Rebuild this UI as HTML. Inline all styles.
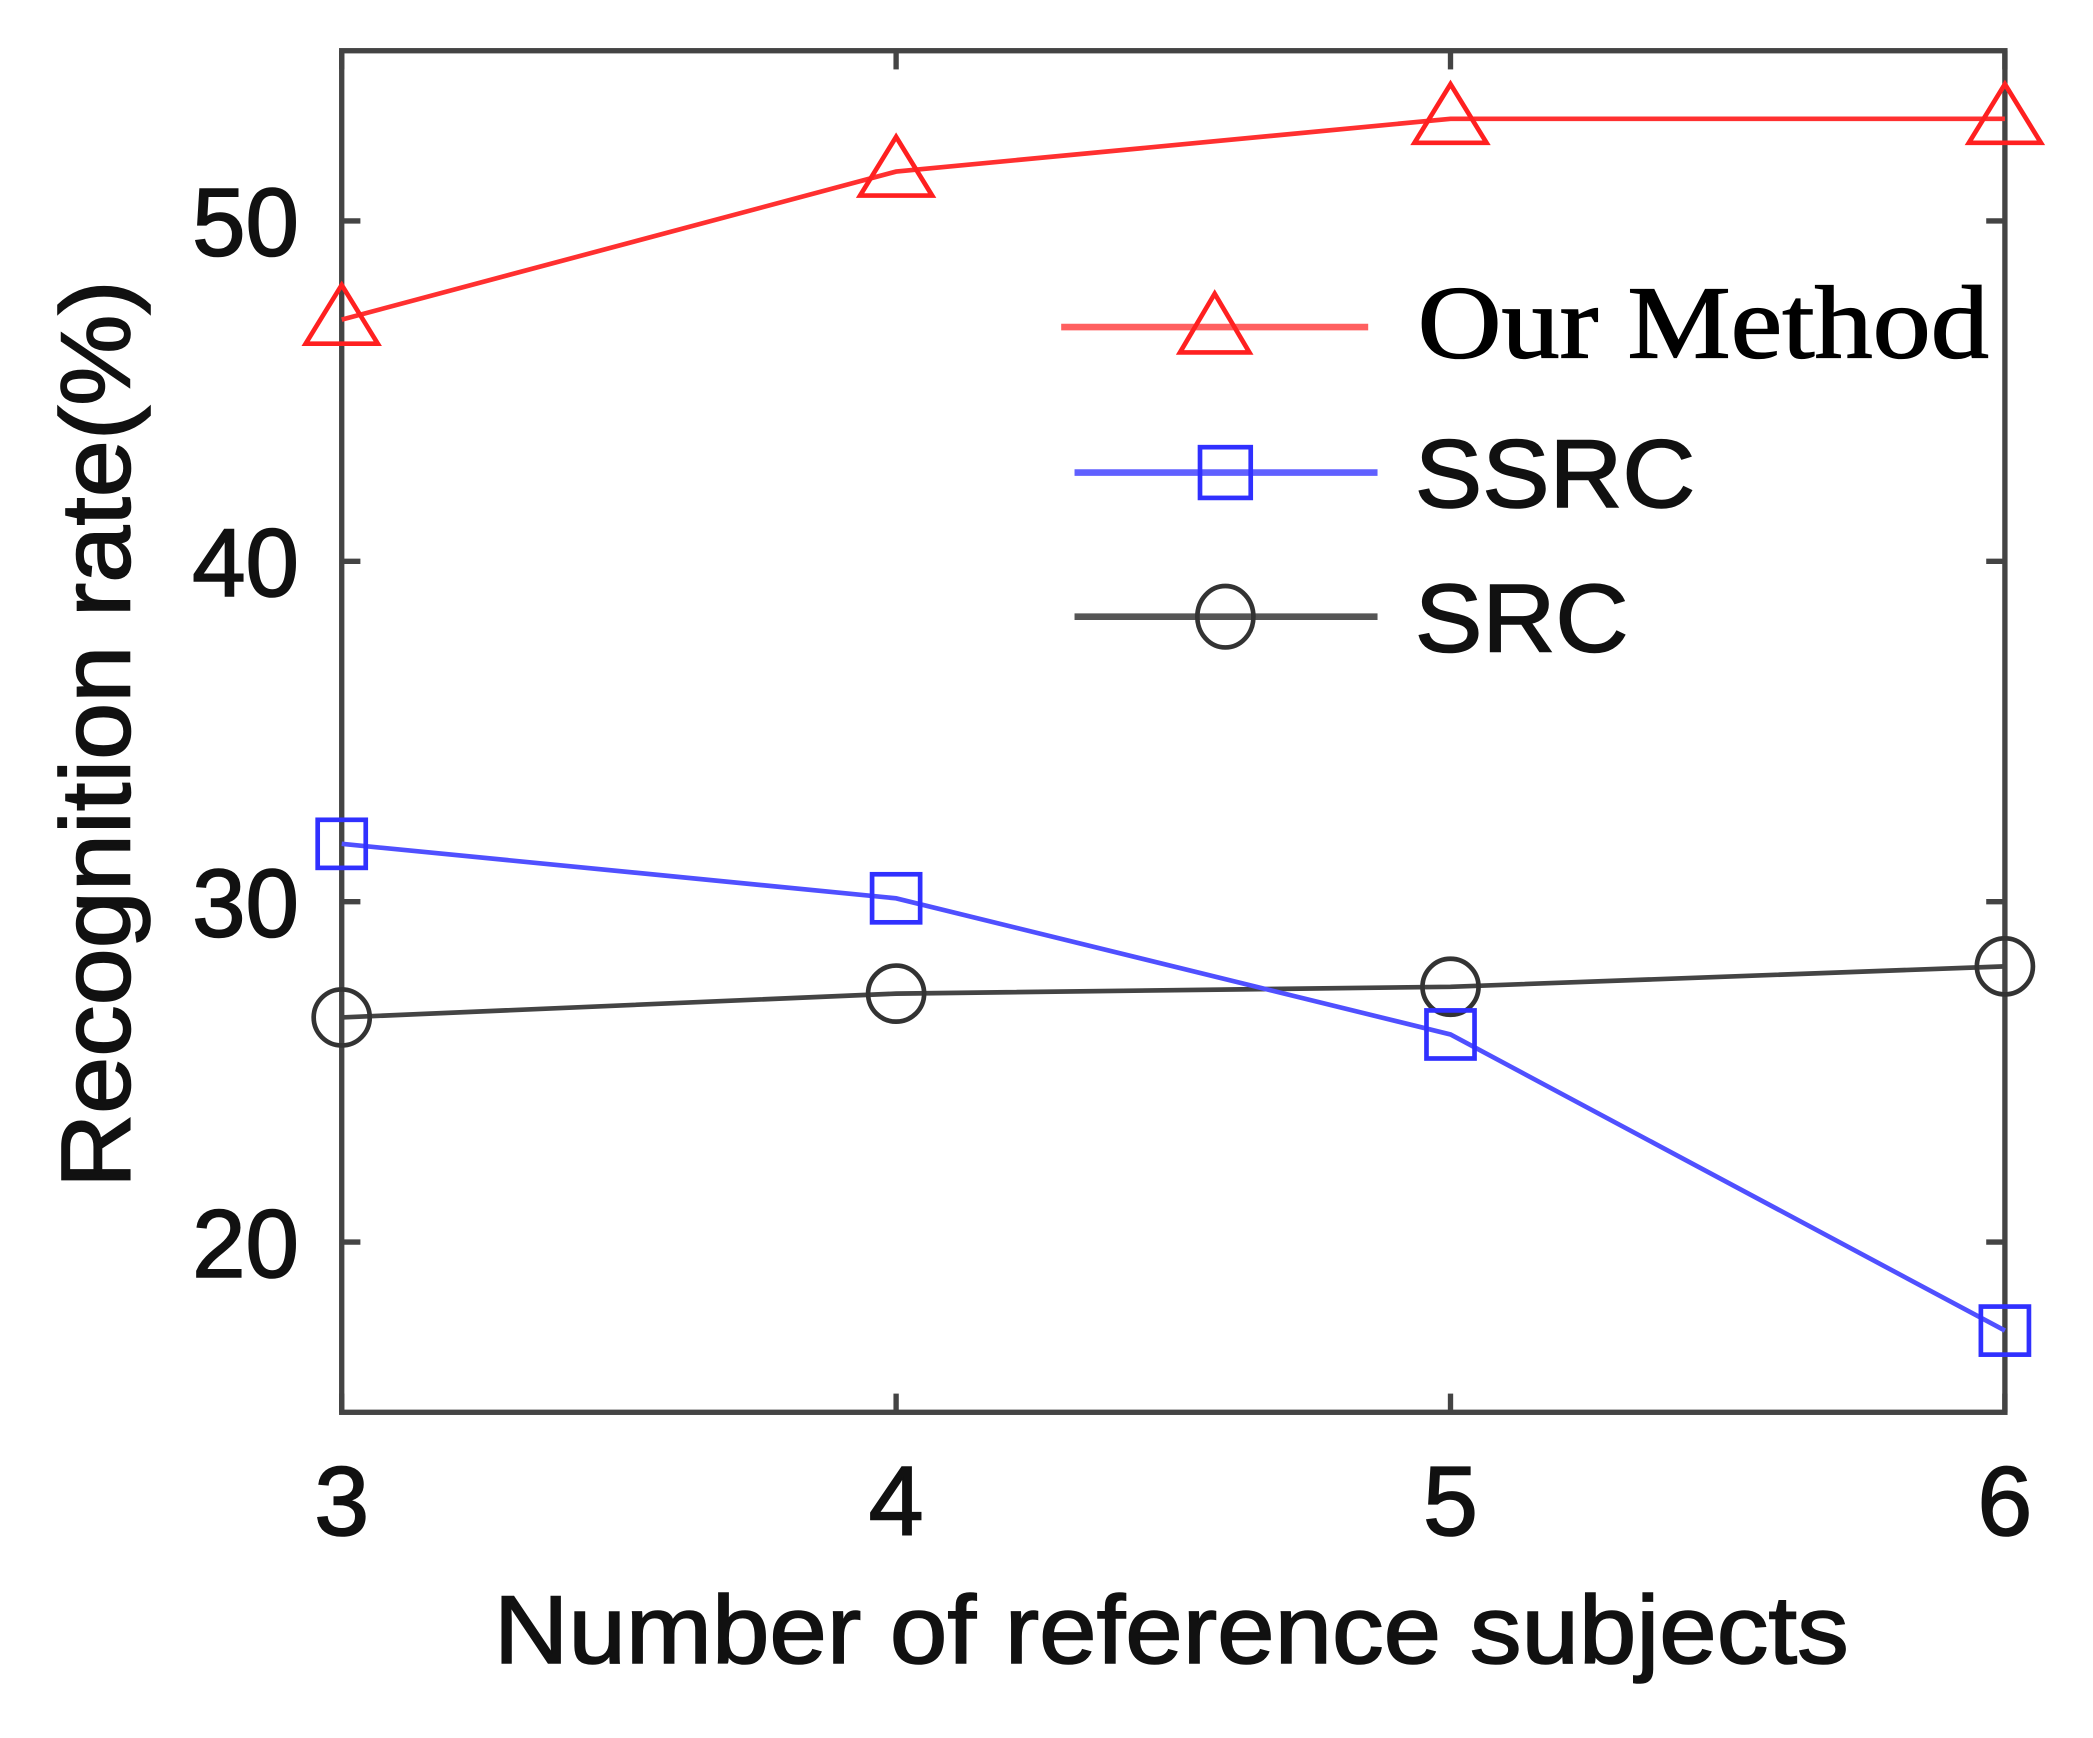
<!DOCTYPE html>
<html><head><meta charset="utf-8"><style>
html,body{margin:0;padding:0;background:#fff;}
svg{display:block;}
</style></head><body>
<svg id="chart" width="2093" height="1738" viewBox="0 0 1568 1302" preserveAspectRatio="none" xmlns="http://www.w3.org/2000/svg">
<rect width="1568" height="1302" fill="#fff"/>
<g id="plot"></g>
<g id="legend">
  <g>
    <line x1="795" y1="245" x2="1025" y2="245" stroke="#ff6060" stroke-width="5"/>
    <polygon points="910,220 936,264 884,264" fill="none" stroke="#ff2020" stroke-width="3.5"/>
    <text x="1062" y="268" textLength="428" lengthAdjust="spacingAndGlyphs" font-family="Liberation Serif, serif" font-size="78" fill="#000" stroke="#000" stroke-width="1">Our Method</text>
  </g>
  <g>
    <line x1="805" y1="354" x2="1032" y2="354" stroke="#6060ff" stroke-width="5"/>
    <rect x="899" y="335" width="38" height="38" fill="none" stroke="#3030ff" stroke-width="3.5"/>
    <text x="1060" y="380" textLength="210" lengthAdjust="spacingAndGlyphs" font-family="Liberation Sans, sans-serif" font-size="72" fill="#111" stroke="#111" stroke-width="1.2">SSRC</text>
  </g>
  <g>
    <line x1="805" y1="462" x2="1032" y2="462" stroke="#555" stroke-width="5"/>
    <ellipse cx="918" cy="462" rx="21" ry="23" fill="none" stroke="#333" stroke-width="3.5"/>
    <text x="1060" y="488" textLength="160" lengthAdjust="spacingAndGlyphs" font-family="Liberation Sans, sans-serif" font-size="72" fill="#111" stroke="#111" stroke-width="1.2">SRC</text>
  </g>
</g>
</svg>
<script>
const categories = [3, 4, 5, 6];
const ourMethod = [47.1, 51.45, 53.0, 53.0];
const ssrc = [31.7, 30.1, 26.1, 17.4];
const src = [26.6, 27.3, 27.5, 28.1];
const yTicks = [20, 30, 40, 50];

const L = 256, R = 1502, T = 38, B = 1058;
const yMin = 15, yMax = 55;
const xs = v => L + (v - 3) / 3 * (R - L);
const ys = v => B - (v - yMin) / (yMax - yMin) * (B - T);
const NS = 'http://www.w3.org/2000/svg';
const g = document.getElementById('plot');
function mk(tag, attrs, parent) {
  const e = document.createElementNS(NS, tag);
  for (const k in attrs) e.setAttribute(k, attrs[k]);
  (parent || g).appendChild(e);
  return e;
}
const frame = mk('rect', {x: L, y: T, width: R - L, height: B - T, fill: 'none', stroke: '#444', 'stroke-width': 4});


yTicks.forEach(t => {
  const y = ys(t);
  mk('line', {x1: L, y1: y, x2: L + 14, y2: y, stroke: '#444', 'stroke-width': 4});
  mk('line', {x1: R, y1: y, x2: R - 14, y2: y, stroke: '#444', 'stroke-width': 4});
  const tx = mk('text', {x: L - 32, y: y + 26, 'text-anchor': 'end', 'font-family': 'Liberation Sans, sans-serif', 'font-size': 72, fill: '#111', stroke: '#111', 'stroke-width': 1.2});
  tx.textContent = t;
  
  
});
categories.forEach(c => {
  const x = xs(c);
  mk('line', {x1: x, y1: B, x2: x, y2: B - 14, stroke: '#444', 'stroke-width': 4});
  mk('line', {x1: x, y1: T, x2: x, y2: T + 14, stroke: '#444', 'stroke-width': 4});
  const tx = mk('text', {x: x, y: 1150, 'text-anchor': 'middle', 'font-family': 'Liberation Sans, sans-serif', 'font-size': 74, fill: '#111', stroke: '#111', 'stroke-width': 1.2});
  tx.textContent = c;
  
  
});
const xt = mk('text', {x: 370, y: 1246, textLength: 1015, lengthAdjust: 'spacingAndGlyphs', 'font-family': 'Liberation Sans, sans-serif', 'font-size': 72, fill: '#111', stroke: '#111', 'stroke-width': 1.2});
xt.textContent = 'Number of reference subjects';


const yt = mk('text', {x: 0, y: 0, transform: 'translate(97,890) rotate(-90)', textLength: 680, lengthAdjust: 'spacingAndGlyphs', 'font-family': 'Liberation Sans, sans-serif', 'font-size': 74, fill: '#111', stroke: '#111', 'stroke-width': 1.2});
yt.textContent = 'Recognition rate(%)';



function series(vals, color, lineColor, name, marker) {
  const sg = mk('g', {});
  
  
  mk('polyline', {points: vals.map((v, i) => xs(categories[i]) + ',' + ys(v)).join(' '), fill: 'none', stroke: lineColor, 'stroke-width': 3.5}, sg);
  vals.forEach((v, i) => {
    const x = xs(categories[i]), y = ys(v);
    let m;
    if (marker === 'tri') m = mk('polygon', {points: `${x},${y-26} ${x+27},${y+18} ${x-27},${y+18}`, fill: 'none', stroke: color, 'stroke-width': 3.5}, sg);
    else if (marker === 'sq') m = mk('rect', {x: x-18, y: y-18, width: 36, height: 36, fill: 'none', stroke: color, 'stroke-width': 3.5}, sg);
    else m = mk('circle', {cx: x, cy: y, r: 21, fill: 'none', stroke: color, 'stroke-width': 3.5}, sg);
    
    
  });
}
series(src, '#333', '#444', 'series-src', 'circ');
series(ssrc, '#3030ff', '#5050ff', 'series-ssrc', 'sq');
series(ourMethod, '#ff2020', '#ff3030', 'series-our-method', 'tri');
</script>
</body></html>
